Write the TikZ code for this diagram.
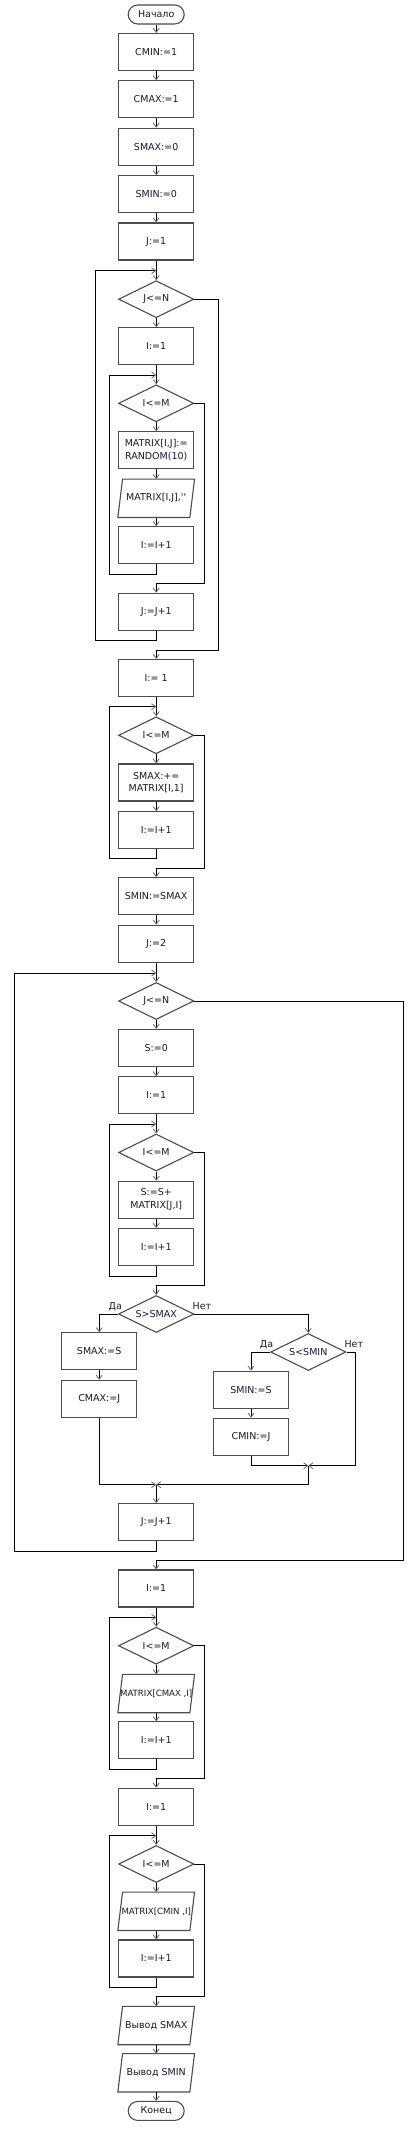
\documentclass[tikz,border=0pt]{standalone}
\usepackage{fontspec}
\newfontfamily\fcfont{DejaVu Sans}
\usetikzlibrary{arrows.meta,shapes.geometric,calc}
\definecolor{txtc}{RGB}{25,25,45}
\newcommand\iopath[1]{\draw[draw=black!70, line width=1.1pt] ($(#1.north west)+(4.7,0)$) -- (#1.north east) -- ($(#1.south east)+(-4.7,0)$) -- (#1.south west) -- cycle;}
\newcommand\smalltxt{\fontsize{8.6}{11}\selectfont}
\begin{document}
\begin{tikzpicture}[x=1pt,y=-1pt,
 txt/.style={font=\fcfont\fontsize{9.5}{12.7}\selectfont, text=txtc, align=center},
 procbox/.style={txt, draw=black!70, line width=1.1pt, minimum width=75pt, minimum height=37pt, inner sep=0pt},
 decbox/.style={txt, diamond, draw=black!70, line width=1.1pt, minimum width=75.3pt, minimum height=37pt, inner sep=0pt, aspect=2},
 termbox/.style={txt, draw=black!70, line width=1.1pt, rounded corners=9.5pt, minimum width=56pt, minimum height=19pt, inner sep=0pt},
 iobox/.style={txt, minimum width=76.3pt, minimum height=38pt, inner sep=0pt},
 conn/.style={draw=black, line width=0.8pt},
 arr/.style={conn, -{Straight Barb[length=4pt,width=6pt,color=black!60]}},
 lbl/.style={txt, inner sep=0pt}
]
\useasboundingbox[fill=white] (0,0) rectangle (417,2135);
% first part
\node[termbox] (start) at (156.2,14.5) {Начало};
\node[procbox] (b1) at (156.2,52) {CMIN:=1};
\node[procbox] (b2) at (156.2,99.3) {CMAX:=1};
\node[procbox] (b3) at (156.2,146.8) {SMAX:=0};
\node[procbox] (b4) at (156.2,194.2) {SMIN:=0};
\node[procbox] (b5) at (156.2,241.5) {J:=1};
\coordinate (j1) at (156.2,270.7);
\node[decbox] (d1) at (156.2,299.2) {J<=N};
\node[procbox] (b6) at (156.2,346.2) {I:=1};
\coordinate (j2) at (156.2,375);
\node[decbox] (d2) at (156.2,403.3) {I<=M};
\node[procbox] (b7) at (156.2,450.3) {MATRIX[I,J]:=\\RANDOM(10)};
\node[iobox] (p1) at (156.2,498.3) {MATRIX[I,J],''};
\iopath{p1}
\node[procbox] (b8) at (156.2,545.2) {I:=I+1};
\node[procbox] (b9) at (156.2,611.7) {J:=J+1};
% second part
\node[procbox] (b10) at (156.2,678) {I:= 1};
\coordinate (j3) at (156.2,706.7);
\node[decbox] (d3) at (156.2,735.3) {I<=M};
\node[procbox] (b11) at (156.2,782.5) {SMAX:+=\\MATRIX[I,1]};
\node[procbox] (b12) at (156.2,830.2) {I:=I+1};
\node[procbox] (b13) at (156.2,896.2) {SMIN:=SMAX};
\node[procbox] (b14) at (156.2,943.7) {J:=2};
% third part
\coordinate (j4) at (156.2,973);
\node[decbox] (d4) at (156.2,1001) {J<=N};
\node[procbox] (b15) at (156.2,1048) {S:=0};
\node[procbox] (b16) at (156.2,1095.3) {I:=1};
\coordinate (j5) at (156.2,1124);
\node[decbox] (d5) at (156.2,1152.5) {I<=M};
\node[procbox] (b17) at (156.2,1199.7) {S:=S+\\MATRIX[J,I]};
\node[procbox] (b18) at (156.2,1247) {I:=I+1};
\node[decbox] (d6) at (156.2,1314) {S>SMAX};
\node[procbox] (b19) at (99.2,1351.3) {SMAX:=S};
\node[procbox] (b20) at (99.2,1398.8) {CMAX:=J};
\node[decbox] (d7) at (308.3,1352) {S<SMIN};
\node[procbox] (b21) at (251,1389.7) {SMIN:=S};
\node[procbox] (b22) at (251,1436.8) {CMIN:=J};
\coordinate (m1) at (308.3,1465.7);
\coordinate (m2) at (156.2,1484.7);
\node[procbox] (b23) at (156.2,1522.2) {J:=J+1};
\node[lbl] (l1) at (115.3,1306.5) {Да};
\node[lbl] (l2) at (202,1306.5) {Нет};
\node[lbl] (l3) at (266.5,1344.3) {Да};
\node[lbl] (l4) at (353.8,1344.3) {Нет};
% fourth part
\node[procbox] (b24) at (156.2,1588.5) {I:=1};
\coordinate (j6) at (156.2,1617.3);
\node[decbox] (d8) at (156.2,1645.7) {I<=M};
\node[iobox] (p2) at (156.2,1693.5) {\smalltxt MATRIX[CMAX ,I]};
\iopath{p2}
\node[procbox] (b25) at (156.2,1740.3) {I:=I+1};
\node[procbox] (b26) at (156.2,1806.8) {I:=1};
\coordinate (j7) at (156.2,1835.7);
\node[decbox] (d9) at (156.2,1864) {I<=M};
\node[iobox] (p3) at (156.2,1911.3) {\smalltxt MATRIX[CMIN ,I]};
\iopath{p3}
\node[procbox] (b27) at (156.2,1958.5) {I:=I+1};
\node[iobox] (p4) at (156.2,2025.5) {Вывод SMAX};
\iopath{p4}
\node[iobox] (p5) at (156.2,2072.8) {Вывод SMIN};
\iopath{p5}
\node[termbox] (end) at (156.2,2110.9) {Конец};
% connectors part 1
\draw[arr] (start) -- (b1);
\draw[arr] (b1) -- (b2);
\draw[arr] (b2) -- (b3);
\draw[arr] (b3) -- (b4);
\draw[arr] (b4) -- (b5);
\draw[arr] (b5.south) -- (d1.north);
\draw[arr] (b9.south) |- (95.3,640) |- (j1);
\draw[arr] (d1.south) -- (b6.north);
\draw[arr] (b6.south) -- (d2.north);
\draw[arr] (b8.south) |- (109.3,574) |- (j2);
\draw[arr] (d2.south) -- (b7.north);
\draw[arr] (b7.south) -- (p1.north);
\draw[arr] (p1.south) -- (b8.north);
\draw[arr] (d2.east) -| (204,583.3) -| (b9.north);
\draw[arr] (d1.east) -| (218.3,650) -| (b10.north);
% connectors part 2
\draw[arr] (b10.south) -- (d3.north);
\draw[arr] (b12.south) |- (109.3,858.7) |- (j3);
\draw[arr] (d3.south) -- (b11.north);
\draw[arr] (b11.south) -- (b12.north);
\draw[arr] (d3.east) -| (204,868.3) -| (b13.north);
\draw[arr] (b13) -- (b14);
% connectors part 3
\draw[arr] (b14.south) -- (d4.north);
\draw[arr] (b23.south) |- (14.3,1551) |- (j4);
\draw[arr] (d4.south) -- (b15.north);
\draw[arr] (b15) -- (b16);
\draw[arr] (b16.south) -- (d5.north);
\draw[arr] (b18.south) |- (109.3,1276) |- (j5);
\draw[arr] (d5.south) -- (b17.north);
\draw[arr] (b17) -- (b18);
\draw[arr] (d5.east) -| (204,1285.7) -| (d6.north);
\draw[arr] (d6.west) -| (b19.north);
\draw[arr] (b19) -- (b20);
\draw[arr] (d6.east) -| (d7.north);
\draw[arr] (d7.west) -| (b21.north);
\draw[arr] (b21) -- (b22);
\draw[arr] (b22.south) |- (m1);
\draw[arr] (d7.east) -| (355.7,1465.7) -- (m1);
\draw[arr] (m1) |- (m2);
\draw[arr] (b20.south) |- (m2);
\draw[arr] (m2) -- (b23.north);
\draw[arr] (d4.east) -| (403.3,1560.3) -| (b24.north);
% connectors part 4
\draw[arr] (b24.south) -- (d8.north);
\draw[arr] (b25.south) |- (109.3,1769) |- (j6);
\draw[arr] (d8.south) -- (p2.north);
\draw[arr] (p2.south) -- (b25.north);
\draw[arr] (d8.east) -| (204,1778.7) -| (b26.north);
\draw[arr] (b26.south) -- (d9.north);
\draw[arr] (b27.south) |- (109.3,1987) |- (j7);
\draw[arr] (d9.south) -- (p3.north);
\draw[arr] (p3.south) -- (b27.north);
\draw[arr] (d9.east) -| (204,1996.7) -| (p4.north);
\draw[arr] (p4.south) -- (p5.north);
\draw[arr] (p5.south) -- (end.north);
\end{tikzpicture}
\end{document}
